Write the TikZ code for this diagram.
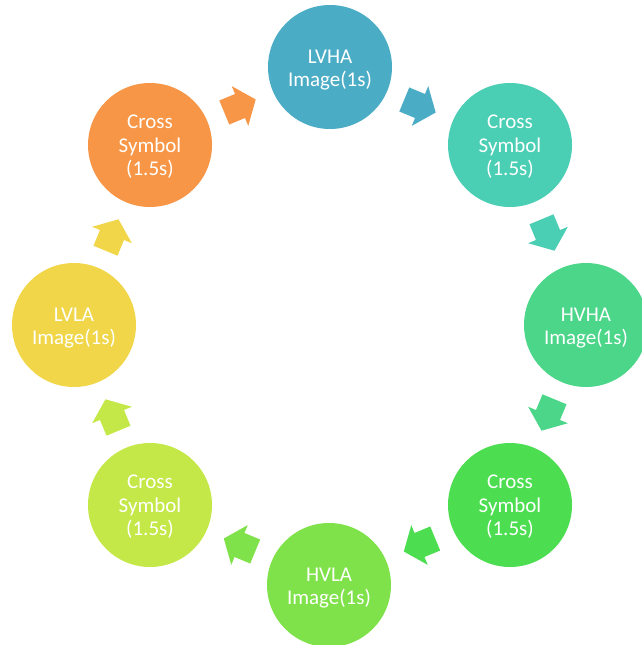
\documentclass[tikz,border=0pt]{standalone}
\usepackage{fontspec}
\setmainfont{Carlito}
\usetikzlibrary{calc}
\definecolor{cA}{RGB}{75,172,198}
\definecolor{cB}{RGB}{74,206,180}
\definecolor{cC}{RGB}{76,214,138}
\definecolor{cD}{RGB}{76,222,80}
\definecolor{cE}{RGB}{128,226,74}
\definecolor{cF}{RGB}{196,232,72}
\definecolor{cG}{RGB}{240,214,72}
\definecolor{cH}{RGB}{247,150,70}
\tikzset{
  stage/.style={circle, minimum size=124pt, inner sep=0pt},
  stagetext/.style={text=white, align=center, inner sep=0pt,
    font=\fontsize{21}{23.5}\selectfont},
}
\newcommand{\blockarr}[4]{%
  \begin{scope}[shift={($(#1)!0.5!(#2)$)}, rotate=#3]
    \fill[#4] (-17,-13) -- (0,-13) -- (0,-21.5) -- (17,0) -- (0,21.5) -- (0,13) -- (-17,13) -- cycle;
  \end{scope}}
\begin{document}
\begin{tikzpicture}[x=1pt,y=-1pt]
\useasboundingbox (0,0) rectangle (641,645);
\node[stage, fill=cA] (lvha) at (330,67) {};
\node[stage, fill=cB] (c1) at (510,145) {};
\node[stage, fill=cC] (hvha) at (586,325) {};
\node[stage, fill=cD] (c2) at (510,505) {};
\node[stage, fill=cE] (hvla) at (329,585) {};
\node[stage, fill=cF] (c3) at (150,505) {};
\node[stage, fill=cG] (lvla) at (74,325) {};
\node[stage, fill=cH] (c4) at (150,145) {};
\node[stagetext] (lvha-t) at ([yshift=-3pt]lvha.center) {LVHA\\Image(1s)};
\node[stagetext] (c1-t) at ([yshift=-2pt]c1.center) {Cross\\Symbol\\(1.5s)};
\node[stagetext] (hvha-t) at ([yshift=-3pt]hvha.center) {HVHA\\Image(1s)};
\node[stagetext] (c2-t) at ([yshift=-2pt]c2.center) {Cross\\Symbol\\(1.5s)};
\node[stagetext] (hvla-t) at ([yshift=-3pt]hvla.center) {HVLA\\Image(1s)};
\node[stagetext] (c3-t) at ([yshift=-2pt]c3.center) {Cross\\Symbol\\(1.5s)};
\node[stagetext] (lvla-t) at ([yshift=-3pt]lvla.center) {LVLA\\Image(1s)};
\node[stagetext] (c4-t) at ([yshift=-2pt]c4.center) {Cross\\Symbol\\(1.5s)};
\blockarr{c4}{lvha}{22.5}{cH}
\blockarr{lvha}{c1}{-22.5}{cA}
\blockarr{c1}{hvha}{-67.5}{cB}
\blockarr{hvha}{c2}{-112.5}{cC}
\blockarr{c2}{hvla}{-157.5}{cD}
\blockarr{hvla}{c3}{157.5}{cE}
\blockarr{c3}{lvla}{112.5}{cF}
\blockarr{lvla}{c4}{67.5}{cG}
\end{tikzpicture}
\end{document}
